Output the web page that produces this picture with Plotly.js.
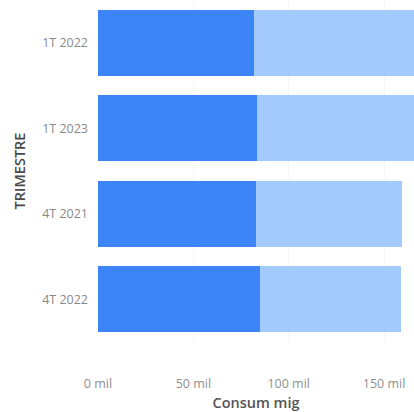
<!DOCTYPE html>
<html>
<head>
<meta charset="utf-8">
<script src="https://cdn.plot.ly/plotly-3.0.1.min.js"></script>
<style>html,body{margin:0;padding:0;background:#fff;}#chart{width:414px;height:412px;}</style>
</head>
<body>
<div id="chart"></div>
<script>
const categories = ["1T 2022", "1T 2023", "4T 2021", "4T 2022"];
const darkValues = [81700, 83200, 82600, 84800];
const lightValues = [86000, 85000, 76900, 74200];
const tickValues = [0, 50000, 100000, 150000];
const tickLabels = ["0 mil", "50 mil", "100 mil", "150 mil"];

const traces = [
  {type: "bar", orientation: "h", y: categories, x: darkValues, marker: {color: "#3d85f7"}, hoverinfo: "x+y"},
  {type: "bar", orientation: "h", y: categories, x: lightValues, marker: {color: "#a4c9fb"}, hoverinfo: "x+y"}
];

const layout = {
  width: 414, height: 412,
  margin: {l: 98, r: 0, t: 0, b: 70},
  barmode: "stack",
  bargap: 0.228,
  showlegend: false,
  paper_bgcolor: "#fff",
  plot_bgcolor: "#fff",
  font: {family: "Open Sans, Noto Sans, sans-serif", color: "#777"},
  xaxis: {
    range: [0, 165700],
    tickvals: tickValues,
    ticktext: tickLabels,
    tickfont: {size: 12.5, color: "#8f8f8f"},
    showgrid: true,
    gridcolor: "#f6f6f6",
    zeroline: false,
    showline: false,
    ticklabelstandoff: 32,
    title: {text: "Consum mig", font: {size: 14.5, color: "#555", weight: 600}, standoff: 7}
  },
  yaxis: {
    type: "category",
    categoryorder: "array",
    categoryarray: categories,
    autorange: "reversed",
    tickfont: {size: 12.5, color: "#8a8a8a"},
    showgrid: false,
    zeroline: false,
    showline: false,
    ticklabelstandoff: 9,
    title: {text: "TRIMESTRE", font: {size: 14.5, color: "#4a4a4a", weight: 600}, standoff: 13}
  }
};

Plotly.newPlot("chart", traces, layout, {displayModeBar: false, staticPlot: true});
</script>
</body>
</html>
